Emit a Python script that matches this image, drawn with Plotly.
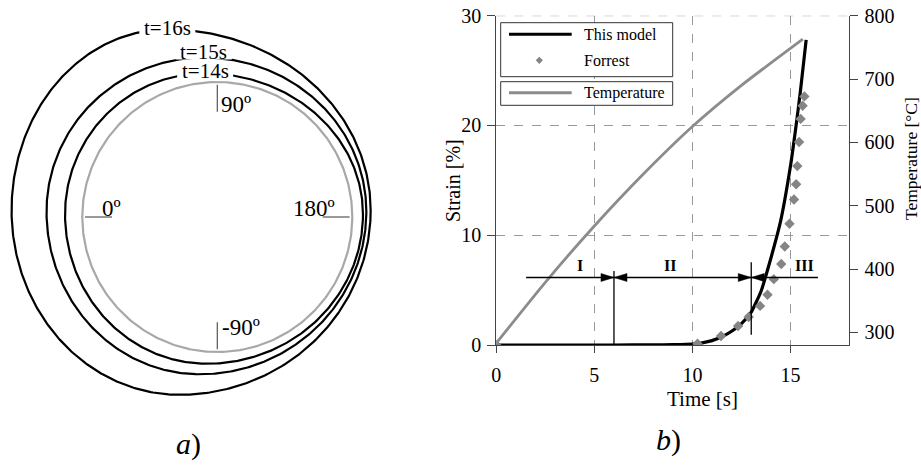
import numpy as np
import plotly.graph_objects as go

W, H = 921, 466
SERIF = "Times New Roman"

# ---------------- panel b) data ----------------
temp_time = [0, 2.5, 5, 7.5, 10, 12.5, 15.63]
temp_vals = [283, 379, 468, 550, 625, 690, 763]

model_time = [0, 6, 8, 9, 10, 10.5, 11, 11.5, 12, 12.5, 13, 13.5, 14, 14.5, 15, 15.25, 15.5, 15.8]
model_strain = [0, 0, 0.01, 0.03, 0.08, 0.2, 0.4, 0.75, 1.25, 1.95, 3.0, 4.9, 7.9, 11.3, 16.3, 19.5, 23.0, 27.8]

forrest_time = [0, 10.26, 11.46, 12.33, 12.87, 13.45, 13.83, 14.15, 14.53, 14.71, 14.95,
                15.18, 15.29, 15.35, 15.44, 15.52, 15.62, 15.71]
forrest_strain = [0, 0.12, 0.82, 1.73, 2.55, 3.56, 4.58, 6.0, 7.38, 8.98, 11.05,
                  13.25, 14.65, 16.3, 18.5, 20.6, 21.8, 22.65]

stage_labels = ["I", "II", "III"]
stage_label_time = [4.27, 8.85, 15.7]
stage_bounds = [6.0, 13.0]          # stage transitions [s]
stage_span = [1.52, 16.4]           # extent of the dimension line [s]
stage_level = 6.15                  # strain level of the dimension line
stage_bound_low = [0.0, 0.94]       # lower end of boundary markers
stage_bound_high = [6.75, 7.54]     # upper end of boundary markers

x_ticks = [0, 5, 10, 15]
strain_ticks = [0, 10, 20, 30]
temp_ticks = [300, 400, 500, 600, 700, 800]

# ---------------- panel a) data (normalised by initial radius) ----------------
contour_labels = ["t=14s", "t=15s", "t=16s"]
x_left = [-1.128, -1.265, -1.524]
x_right = [1.079, 1.104, 1.136]
y_top = [1.064, 1.181, 1.390]
y_bottom = [-1.087, -1.165, -1.317]
x_at_top = [-0.09, -0.10, -0.37]
x_at_bottom = [-0.076, -0.13, -0.28]
y_at_side = [0.02, 0.04, 0.05]

angle_labels = ["0º", "90º", "180º", "-90º"]

# pixel helpers
def fx(p):
    return p / W

def fy(p):
    return 1 - p / H

# right plot frame in pixels
PX0, PX1 = 496.3, 849.3
PY0, PY1 = 345.0, 15.7
XR = [0, 18]
YR = [0, 30]
Y2R = [280, 800]
sx = (PX1 - PX0) / (XR[1] - XR[0])
sy = (PY0 - PY1) / (YR[1] - YR[0])

# left panel frame
CX, CY, R0 = 217.3, 217.0, 135.0
LX1 = 420.0

fig = go.Figure()

# ---- panel a) ----
th = np.linspace(0, 2 * np.pi, 400)
fig.add_trace(go.Scatter(x=np.cos(th), y=np.sin(th), xaxis="x3", yaxis="y3", mode="lines",
                         line=dict(color="#a8a8a8", width=2.2), hoverinfo="skip", showlegend=False))


def contour(xl, xr, yt, yb, xt, xb, ys, n=120):
    a = np.linspace(0, np.pi / 2, n)
    # right -> top
    x1 = xt + (xr - xt) * np.cos(a)
    y1 = ys + (yt - ys) * np.sin(a)
    # top -> left
    x2 = xt - (xt - xl) * np.sin(a)
    y2 = ys + (yt - ys) * np.cos(a)
    # left -> bottom
    x3 = xb - (xb - xl) * np.cos(a)
    y3 = ys - (ys - yb) * np.sin(a)
    # bottom -> right
    x4 = xb + (xr - xb) * np.sin(a)
    y4 = ys - (ys - yb) * np.cos(a)
    return np.concatenate([x1, x2, x3, x4]), np.concatenate([y1, y2, y3, y4])


for i in range(len(contour_labels)):
    cx_, cy_ = contour(x_left[i], x_right[i], y_top[i], y_bottom[i],
                       x_at_top[i], x_at_bottom[i], y_at_side[i])
    fig.add_trace(go.Scatter(x=cx_, y=cy_, xaxis="x3", yaxis="y3", mode="lines",
                             line=dict(color="black", width=2.2), hoverinfo="skip", showlegend=False))

shapes = []
annotations = []

# white gaps in the contours behind the time labels (label lift in px)
label_lift = [0.5, 4.5, 0.0]
label_half_w = 28 / R0
label_half_h = 6.5 / R0
for i, lab in enumerate(contour_labels):
    yc = y_top[i] + label_lift[i] / R0
    shapes.append(dict(type="rect", xref="x3", yref="y3",
                       x0=x_at_top[i] - label_half_w, x1=x_at_top[i] + label_half_w,
                       y0=yc - label_half_h, y1=yc + label_half_h,
                       fillcolor="white", line=dict(width=0), layer="above"))
    annotations.append(dict(x=x_at_top[i], y=yc + 1.5 / R0, xref="x3", yref="y3", text=lab,
                            showarrow=False, xanchor="center", yanchor="middle",
                            font=dict(family=SERIF, size=21, color="black")))

# angle reference marks on the initial circle
mark_r0, mark_r1 = 0.78, 0.98
for ang in [np.pi, np.pi / 2, 0.0, -np.pi / 2]:
    shapes.append(dict(type="line", xref="x3", yref="y3",
                       x0=mark_r0 * np.cos(ang), x1=mark_r1 * np.cos(ang),
                       y0=mark_r0 * np.sin(ang), y1=mark_r1 * np.sin(ang),
                       line=dict(color="#555555", width=1.2)))

angle_pos = [(-0.783, 0.06, "center"), (0.01, 0.83, "left"), (0.716, 0.06, "center"), (0.02, -0.82, "left")]
for lab, (ax_, ay_, anc) in zip(angle_labels, angle_pos):
    annotations.append(dict(x=ax_, y=ay_, xref="x3", yref="y3", text=lab, showarrow=False,
                            xanchor=anc, yanchor="middle",
                            font=dict(family=SERIF, size=23, color="black")))

# ---- panel b) traces ----
fig.add_trace(go.Scatter(x=model_time, y=model_strain, mode="lines",
                         line=dict(color="black", width=3.2, shape="spline", smoothing=0.5),
                         name="This model", showlegend=False))
fig.add_trace(go.Scatter(x=forrest_time, y=forrest_strain, mode="markers",
                         marker=dict(symbol="diamond", size=8, color="#858585"),
                         name="Forrest", showlegend=False))
fig.add_trace(go.Scatter(x=temp_time, y=temp_vals, yaxis="y2", mode="lines",
                         line=dict(color="#8c8c8c", width=2.8, shape="spline", smoothing=0.6),
                         name="Temperature", showlegend=False))

# top border drawn as a dashed grid line
shapes.append(dict(type="line", xref="x", yref="y", x0=XR[0], x1=XR[1], y0=YR[1], y1=YR[1],
                   line=dict(color="#999999", width=1, dash="dash")))

# stage dimension line
shapes.append(dict(type="line", xref="x", yref="y", x0=stage_span[0], x1=stage_span[1],
                   y0=stage_level, y1=stage_level, line=dict(color="black", width=1.3)))
for b, lo, hi in zip(stage_bounds, stage_bound_low, stage_bound_high):
    shapes.append(dict(type="line", xref="x", yref="y", x0=b, x1=b, y0=lo, y1=hi,
                       line=dict(color="black", width=1.3)))
head_len = 13 / sx
head_half = 4 / sy
for b in stage_bounds:
    for d in (-1, 1):
        path = (f"M {b},{stage_level} L {b + d * head_len},{stage_level + head_half} "
                f"L {b + d * head_len},{stage_level - head_half} Z")
        shapes.append(dict(type="path", xref="x", yref="y", path=path,
                           fillcolor="black", line=dict(color="black", width=0.5)))
for lab, t in zip(stage_labels, stage_label_time):
    annotations.append(dict(x=t, y=stage_level + 1.1, xref="x", yref="y", text=f"<b>{lab}</b>",
                            showarrow=False, xanchor="center", yanchor="middle",
                            font=dict(family=SERIF, size=16, color="black")))

# ---- legend boxes ----
box1 = (500.7, 22.7, 672.7, 76.7)
box2 = (500.7, 81.7, 672.7, 105.3)
for bx in (box1, box2):
    shapes.append(dict(type="rect", xref="paper", yref="paper", x0=fx(bx[0]), x1=fx(bx[2]),
                       y0=fy(bx[3]), y1=fy(bx[1]), line=dict(color="#333333", width=1),
                       fillcolor="white", layer="above"))
legend_rows = [("This model", 34.3, "line", "black"),
               ("Forrest", 60.3, "diamond", "#858585"),
               ("Temperature", 92.7, "line", "#8c8c8c")]
for txt, yy, kind, col in legend_rows:
    if kind == "line":
        shapes.append(dict(type="line", xref="paper", yref="paper", x0=fx(509), x1=fx(571.7),
                           y0=fy(yy), y1=fy(yy), line=dict(color=col, width=3)))
    else:
        cxp, d = 539.3, 3.6
        path = (f"M {fx(cxp)},{fy(yy - d)} L {fx(cxp + d)},{fy(yy)} "
                f"L {fx(cxp)},{fy(yy + d)} L {fx(cxp - d)},{fy(yy)} Z")
        shapes.append(dict(type="path", xref="paper", yref="paper", path=path,
                           fillcolor=col, line=dict(color=col, width=0)))
    annotations.append(dict(x=fx(581.7), y=fy(yy), xref="paper", yref="paper", text=txt,
                            xanchor="left", yanchor="middle", showarrow=False,
                            font=dict(family=SERIF, size=16, color="black")))

# ---- axis titles and panel captions ----
def paper_text(x, y, txt, size, angle=0):
    return dict(x=fx(x), y=fy(y), xref="paper", yref="paper", text=txt, showarrow=False,
                xanchor="center", yanchor="middle", textangle=angle,
                font=dict(family=SERIF, size=size, color="black"))

annotations += [
    paper_text(702, 399, "Time [s]", 21),
    paper_text(453, 181, "Strain [%]", 20, -90),
    paper_text(911, 159, "Temperature [°C]", 17.5, -90),
    paper_text(188, 444, "<i>a</i>)", 30),
    paper_text(668, 440, "<i>b</i>)", 30),
]

axis_col = "#444444"
tickfont = dict(family=SERIF, size=20, color="black")
fig.update_layout(
    width=W, height=H, margin=dict(l=0, r=0, t=0, b=0, autoexpand=False),
    paper_bgcolor="white", plot_bgcolor="rgba(0,0,0,0)",
    showlegend=False,
    xaxis=dict(domain=[fx(PX0), fx(PX1)], range=XR, tickvals=x_ticks, ticks="outside", ticklen=7,
               tickcolor=axis_col, showline=True, linecolor=axis_col, linewidth=1.2,
               showgrid=True, gridcolor="#999999", griddash="dash", gridwidth=1,
               zeroline=False, tickfont=tickfont, anchor="y", automargin=False,
               ticklabelstandoff=5),
    yaxis=dict(domain=[fy(PY0), fy(PY1)], range=YR, tickvals=strain_ticks, ticks="outside", ticklen=8,
               tickcolor=axis_col, showline=True, linecolor=axis_col, linewidth=1.2,
               showgrid=True, gridcolor="#999999", griddash="dash", gridwidth=1,
               zeroline=False, tickfont=tickfont, anchor="x", automargin=False,
               ticklabelstandoff=2),
    yaxis2=dict(overlaying="y", side="right", range=Y2R, tickvals=temp_ticks, ticks="outside",
                ticklen=8, tickcolor=axis_col, showline=True, linecolor=axis_col, linewidth=1.2,
                showgrid=False, zeroline=False, tickfont=tickfont, anchor="x", automargin=False,
                ticklabelstandoff=2),
    xaxis3=dict(domain=[0, fx(LX1)], range=[(0 - CX) / R0, (LX1 - CX) / R0], visible=False,
                anchor="y3"),
    yaxis3=dict(domain=[0, 1], range=[(CY - H) / R0, CY / R0], visible=False, anchor="x3"),
    shapes=shapes,
    annotations=annotations,
)

fig.write_html("out.html")
